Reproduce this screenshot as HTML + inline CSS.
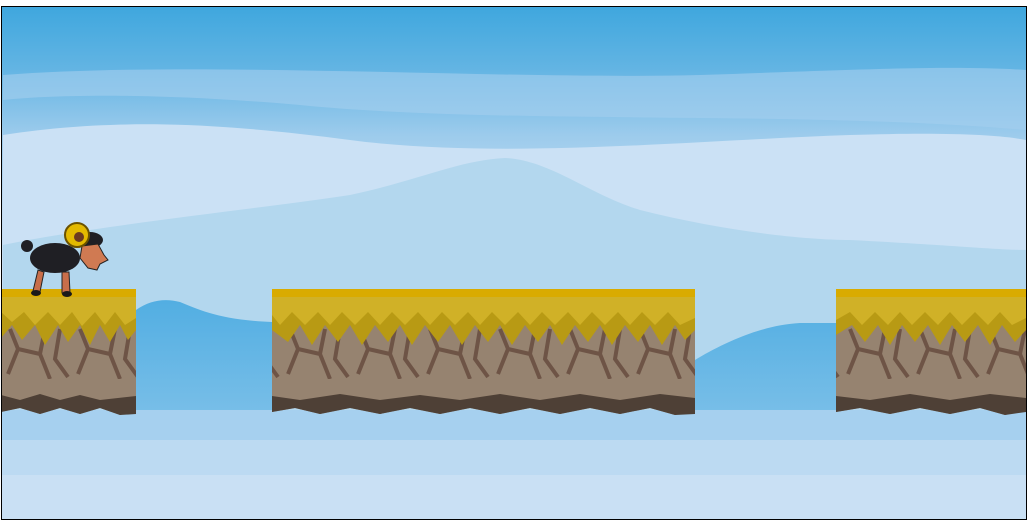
<!DOCTYPE html>
<html><head><meta charset="utf-8"><style>
html,body{margin:0;padding:0;background:#fff;width:1036px;height:530px;overflow:hidden}
svg{position:absolute;left:0;top:0}
</style></head><body>
<svg width="1036" height="530" viewBox="0 0 1036 530">
<defs>
<linearGradient id="sky" x1="0" y1="0" x2="0" y2="1">
<stop offset="0" stop-color="#3fa7de"/>
<stop offset="0.12" stop-color="#62b4e3"/>
<stop offset="0.25" stop-color="#9ccbec"/>
<stop offset="0.4" stop-color="#c4ddf3"/>
<stop offset="1" stop-color="#cde2f5"/>
</linearGradient>
<linearGradient id="low" x1="0" y1="0" x2="0" y2="1">
<stop offset="0" stop-color="#52aee2"/>
<stop offset="0.35" stop-color="#6cb9e6"/>
<stop offset="0.7" stop-color="#85c4ea"/>
<stop offset="1" stop-color="#9ccbec"/>
</linearGradient>
<pattern id="rock" width="70" height="90" patternUnits="userSpaceOnUse" y="289">
<rect width="70" height="90" fill="#968370"/>
<path d="M10 40 L18 60 L8 85 M18 60 L40 65 L50 90 M40 65 L45 40 M60 40 L55 70 L68 88" stroke="#6e5446" stroke-width="4" fill="none"/>
</pattern>
</defs>
<g>
<rect x="1.5" y="6.5" width="1025" height="513" fill="url(#sky)"/>
<path d="M3 75 C200 60 500 80 700 75 C850 70 950 65 1026 70 L1026 130 C800 110 500 125 300 105 C150 92 50 95 3 100Z" fill="#a5cfee" opacity="0.6"/>
<path d="M3 135 C100 120 200 120 350 140 C500 160 700 140 850 135 C950 132 1000 135 1026 140 L1026 260 L3 260Z" fill="#cbe1f5"/>
<path d="M3 245 C100 225 250 210 350 195 C420 180 460 160 505 158 C550 160 590 195 640 210 C720 230 800 240 850 240 C950 245 1000 250 1026 250 L1026 519 L3 519Z" fill="#b3d7ee"/>
<path d="M136 310 C150 300 165 298 180 302 C200 310 220 320 272 322 L272 519 L136 519Z M695 360 C720 345 760 325 800 323 L836 323 L836 519 L695 519Z" fill="url(#low)"/>
<rect x="1" y="410" width="1025" height="109" fill="#a6d0ef"/>
<rect x="1" y="440" width="1025" height="79" fill="#bcdaf2"/>
<rect x="1" y="475" width="1025" height="44" fill="#c9e0f4"/>
<g>
<g>
<path d="M1 289 H136 V410 L120 415 L100 408 L80 414 L60 408 L40 414 L20 408 L1 412Z" fill="url(#rock)"/>
<path d="M1 395 L20 400 L40 394 L60 400 L80 395 L100 400 L136 396 V414 L120 415 L100 408 L80 414 L60 408 L40 414 L20 408 L1 412Z" fill="#4e4036"/>
<path d="M1 289 H136 V330 L128 340 L120 325 L110 342 L100 325 L90 345 L80 325 L68 342 L58 325 L45 345 L35 325 L22 340 L12 325 L1 338Z" fill="#b89a14"/>
<path d="M1 289 H136 V318 L125 325 L115 312 L105 325 L95 312 L82 326 L72 312 L60 325 L48 312 L35 325 L24 312 L12 322 L1 312Z" fill="#d0b127"/>
<rect x="1" y="289" width="135" height="8" fill="#d9ab00"/>
</g>
<g>
<path d="M272 289 H695 V410 L675 415 L650 408 L620 414 L590 408 L560 414 L530 408 L500 414 L470 408 L440 414 L410 408 L380 414 L350 408 L320 414 L295 408 L272 412Z" fill="url(#rock)"/>
<path d="M272 396 L300 400 L340 394 L380 400 L420 395 L460 400 L500 394 L540 400 L580 394 L620 400 L660 394 L695 398 V414 L675 415 L650 408 L620 414 L590 408 L560 414 L530 408 L500 414 L470 408 L440 414 L410 408 L380 414 L350 408 L320 414 L295 408 L272 412Z" fill="#4e4036"/>
<path d="M272 289 H695 V330 L685 340 L675 325 L662 345 L650 325 L638 342 L625 325 L612 345 L600 325 L588 342 L575 325 L562 345 L550 325 L538 342 L525 325 L512 345 L500 325 L488 342 L475 325 L462 345 L450 325 L438 342 L425 325 L412 345 L400 325 L388 342 L375 325 L362 345 L350 325 L338 342 L325 325 L312 345 L300 325 L288 342 L272 330Z" fill="#b89a14"/>
<path d="M272 289 H695 V318 L680 325 L668 312 L655 325 L642 312 L630 325 L618 312 L605 325 L592 312 L580 325 L568 312 L555 325 L542 312 L530 325 L518 312 L505 325 L492 312 L480 325 L468 312 L455 325 L442 312 L430 325 L418 312 L405 325 L392 312 L380 325 L368 312 L355 325 L342 312 L330 325 L318 312 L305 325 L292 312 L280 325 L272 315Z" fill="#d0b127"/>
<rect x="272" y="289" width="423" height="8" fill="#d9ab00"/>
</g>
<g>
<path d="M836 289 H1026 V410 L1005 415 L980 408 L950 414 L920 408 L890 414 L860 408 L836 412Z" fill="url(#rock)"/>
<path d="M836 396 L870 400 L910 394 L950 400 L990 394 L1026 398 V412 L1005 415 L980 408 L950 414 L920 408 L890 414 L860 408 L836 412Z" fill="#4e4036"/>
<path d="M836 289 H1026 V330 L1015 342 L1002 325 L990 345 L978 325 L965 342 L952 325 L940 345 L928 325 L915 342 L902 325 L890 345 L878 325 L865 342 L852 325 L836 335Z" fill="#b89a14"/>
<path d="M836 289 H1026 V318 L1012 325 L1000 312 L988 325 L975 312 L962 325 L950 312 L938 325 L925 312 L912 325 L900 312 L888 325 L875 312 L862 325 L850 312 L836 320Z" fill="#d0b127"/>
<rect x="836" y="289" width="190" height="8" fill="#d9ab00"/>
</g>
</g>
<g>
<path d="M33 291 L38 270 L44 272 L40 292Z" fill="#c86e4a" stroke="#222" stroke-width="1"/>
<path d="M62 293 L62 272 L69 272 L70 293Z" fill="#c86e4a" stroke="#222" stroke-width="1"/>
<ellipse cx="36" cy="293" rx="5" ry="3" fill="#1a1a1a"/>
<ellipse cx="67" cy="294" rx="5" ry="3" fill="#1a1a1a"/>
<ellipse cx="27" cy="246" rx="6" ry="6" fill="#1f1f24"/>
<ellipse cx="55" cy="258" rx="25" ry="15" fill="#1f1f24"/>
<ellipse cx="90" cy="240" rx="13" ry="8" fill="#1f1f24"/>
<path d="M82 246 L98 244 L104 255 L108 260 L100 264 L97 270 L88 268 L80 258Z" fill="#d07a52" stroke="#222" stroke-width="1"/>
<circle cx="77" cy="235" r="12" fill="#e3b900" stroke="#6b5200" stroke-width="2"/>
<circle cx="79" cy="237" r="5" fill="#6b3a20"/>
</g>
<rect x="1.5" y="6.5" width="1025" height="513" fill="none" stroke="#000" stroke-width="1"/>
</g>
</svg>
</body></html>
